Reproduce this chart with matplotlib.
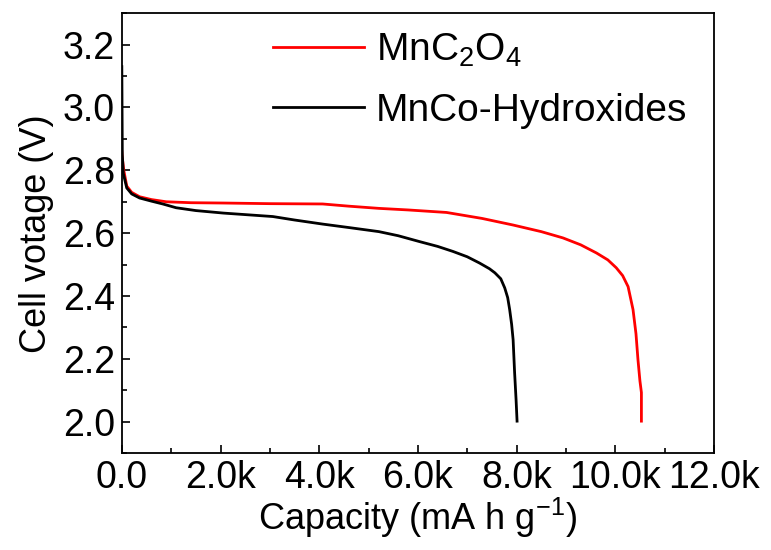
import numpy as np
import matplotlib.pyplot as plt
from matplotlib.ticker import MultipleLocator, FuncFormatter

plt.rcParams['font.family'] = ['Liberation Sans', 'DejaVu Sans']
plt.rcParams['mathtext.fontset'] = 'custom'
plt.rcParams['mathtext.rm'] = 'Liberation Sans'
plt.rcParams['mathtext.it'] = 'Liberation Sans'

# discharge curves (capacity in mA h g-1, voltage in V)
cap_mnc2o4 = [0, 10, 40, 100, 200, 360, 600, 900, 1400, 2060, 3000, 4070, 4600,
              5210, 5800, 6580, 7300, 7930, 8500, 8940, 9300, 9620, 9850, 10020,
              10150, 10260, 10360, 10420, 10460, 10500, 10530, 10530]
volt_mnc2o4 = [2.86, 2.84, 2.80, 2.75, 2.73, 2.716, 2.707, 2.70, 2.697, 2.696,
               2.694, 2.693, 2.686, 2.679, 2.674, 2.666, 2.647, 2.626, 2.605,
               2.585, 2.563, 2.537, 2.515, 2.49, 2.465, 2.43, 2.357, 2.28, 2.198,
               2.13, 2.093, 2.002]

cap_hydrox = [0, 10, 30, 100, 200, 360, 600, 830, 1100, 1500, 2060, 3060, 3500,
              4070, 4600, 5210, 5600, 6040, 6400, 6710, 7000, 7250, 7450, 7560,
              7680, 7760, 7820, 7860, 7900, 7930, 7960, 7990, 8010]
volt_hydrox = [3.13, 2.85, 2.79, 2.744, 2.725, 2.712, 2.702, 2.693, 2.681, 2.672,
               2.664, 2.653, 2.642, 2.629, 2.618, 2.605, 2.592, 2.573, 2.558,
               2.542, 2.525, 2.505, 2.487, 2.474, 2.455, 2.426, 2.395, 2.357,
               2.31, 2.261, 2.157, 2.07, 2.002]

fig = plt.figure(figsize=(7.71, 5.5), dpi=100)
ax = fig.add_axes([0.158, 0.176, 0.768, 0.8])

ax.plot(cap_mnc2o4, volt_mnc2o4, color='red', lw=2.0, label=r'MnC$_2$O$_4$')
ax.plot(cap_hydrox, volt_hydrox, color='black', lw=2.0, label='MnCo-Hydroxides')

ax.set_xlim(0, 12000)
ax.set_ylim(1.9, 3.3)
ax.xaxis.set_major_locator(MultipleLocator(2000))
ax.xaxis.set_minor_locator(MultipleLocator(1000))
ax.yaxis.set_major_locator(MultipleLocator(0.2))
ax.yaxis.set_minor_locator(MultipleLocator(0.1))
ax.xaxis.set_major_formatter(FuncFormatter(lambda v, p: '0.0' if v == 0 else f'{v/1000:.1f}k'))
ax.yaxis.set_major_formatter(FuncFormatter(lambda v, p: f'{v:.1f}'))
ax.tick_params(which='both', direction='in', labelsize=27, width=1.2, pad=5)
ax.tick_params(which='major', length=6)
ax.tick_params(which='minor', length=3.5)
for s in ax.spines.values():
    s.set_linewidth(1.3)

ax.set_xlabel(r'Capacity (mA h g$^{-1}$)', fontsize=26, labelpad=0)
ax.set_ylabel('Cell votage (V)', fontsize=26, labelpad=6)

ax.legend(loc='upper left', bbox_to_anchor=(0.255, 0.958), frameon=False, fontsize=28,
          borderpad=0, borderaxespad=0, handlelength=2.35, handletextpad=0.3,
          labelspacing=0.62)

fig.savefig('out.png', dpi=100)
